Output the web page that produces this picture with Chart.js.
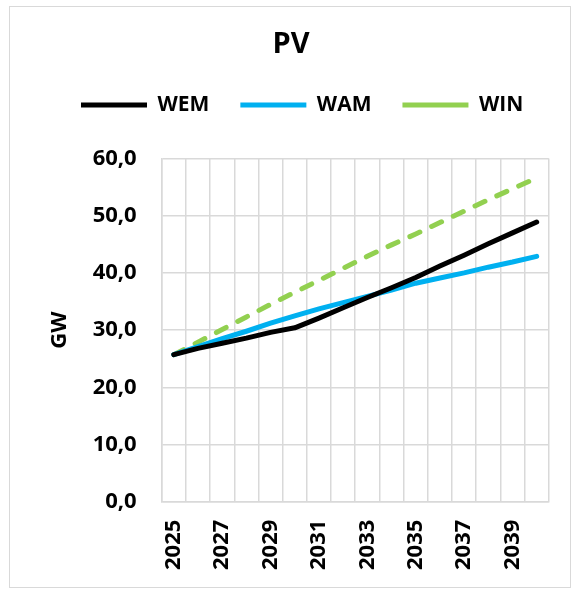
<!DOCTYPE html>
<html>
<head>
<meta charset="utf-8">
<script src="https://cdn.jsdelivr.net/npm/chart.js@4.4.1/dist/chart.umd.min.js"></script>
<style>
  html, body { margin: 0; padding: 0; background: #fff; }
  #wrap { position: relative; width: 582px; height: 594px; }
  #frame { position: absolute; left: 9px; top: 6px; width: 562px; height: 582px; border: 1.5px solid #d9d9d9; box-sizing: border-box; }
  canvas { position: absolute; left: 0; top: 0; }
</style>
</head>
<body>
<div id="wrap">
  <div id="frame"></div>
  <canvas id="chart" width="582" height="594"></canvas>
</div>
<script>
// Daten (GW)
const years = ['2025', '2026', '2027', '2028', '2029', '2030', '2031', '2032',
               '2033', '2034', '2035', '2036', '2037', '2038', '2039', '2040'];
const xTickLabels = ['2025', '2027', '2029', '2031', '2033', '2035', '2037', '2039'];
const wem = [25.7, 26.8, 27.7, 28.6, 29.6, 30.4, 32.1, 33.9, 35.7, 37.4, 39.2, 41.2, 43.1, 45.1, 47.0, 48.9];
const wam = [25.7, 27.1, 28.5, 29.8, 31.2, 32.5, 33.7, 34.8, 35.9, 37.0, 38.2, 39.1, 40.0, 41.0, 41.9, 42.9];
const win = [25.7, 27.9, 30.1, 32.3, 34.5, 36.6, 38.7, 40.8, 42.9, 44.9, 46.8, 48.8, 50.8, 52.8, 54.7, 56.6];

const FONT = "'Open Sans', 'Noto Sans', sans-serif";
const GRID = '#d9d9d9';
const legendStartX = 81;   // wo die erste Legendenlinie beginnen soll
const legendExtra = 33;    // Abstand Legende -> Diagramm

const ctx = document.getElementById('chart').getContext('2d');

const tweaks = {
  id: 'tweaks',
  beforeLayout(chart) {
    const lg = chart.legend;
    if (lg && !lg._patched) {
      const fit = lg.fit;
      lg.fit = function () { fit.call(this); this.height += legendExtra; };
      lg._patched = true;
    }
  },
  afterLayout(chart) {
    // Legende horizontal verschieben
    const lg = chart.legend;
    const p = lg.options.labels.padding;
    const start = (lg.left + p + lg.right - lg.lineWidths[0]) / 2;
    const shift = legendStartX - start;
    lg.left += shift;
    lg.right += shift;
  }
};

new Chart(ctx, {
  type: 'line',
  data: {
    labels: years,
    datasets: [
      { label: 'WEM', data: wem, borderColor: '#000000', backgroundColor: '#000000',
        borderWidth: 5, borderCapStyle: 'round', borderJoinStyle: 'round' },
      { label: 'WAM', data: wam, borderColor: '#00b0f0', backgroundColor: '#00b0f0',
        borderWidth: 5, borderCapStyle: 'round', borderJoinStyle: 'round' },
      { label: 'WIN', data: win, borderColor: '#92d050', backgroundColor: '#92d050',
        borderWidth: 5, borderCapStyle: 'round', borderJoinStyle: 'round', borderDash: [11, 13] }
    ]
  },
  options: {
    responsive: false,
    animation: false,
    devicePixelRatio: 1,
    elements: { point: { radius: 0, hoverRadius: 0 }, line: { tension: 0 } },
    layout: { padding: { left: 0, right: 0, top: 0, bottom: 0 } },
    plugins: {
      tooltip: { enabled: false },
      title: {
        display: true,
        text: 'PV',
        color: '#000',
        font: { family: FONT, size: 29, weight: 'bold', lineHeight: 1.2 },
        padding: { top: 27.6, bottom: 1.1 }
      },
      legend: {
        display: true,
        position: 'top',
        labels: {
          usePointStyle: true,
          pointStyle: 'line',
          pointStyleWidth: 66,
          padding: 31,
          color: '#000',
          font: { family: FONT, size: 21, weight: 'bold' }
        }
      }
    },
    scales: {
      x: {
        type: 'category',
        offset: true,
        grid: { color: GRID, lineWidth: 1.5, offset: true, drawTicks: false },
        border: { color: GRID, width: 1.5 },
        ticks: {
          autoSkip: false,
          minRotation: 90,
          maxRotation: 90,
          padding: 18,
          color: '#000',
          font: { family: FONT, size: 22, weight: 'bold' },
          callback: function (value, index) {
            const lbl = this.getLabelForValue(value);
            return xTickLabels.includes(lbl) ? lbl : '';
          }
        },
        afterFit(scale) { scale.height = 92.3; }
      },
      y: {
        min: 0,
        max: 60,
        grid: { color: GRID, lineWidth: 1.5, drawTicks: false },
        border: { color: GRID, width: 1.5 },
        ticks: {
          stepSize: 10,
          padding: 25,
          color: '#000',
          font: { family: FONT, size: 22, weight: 'bold' },
          callback: (v) => v.toFixed(1).replace('.', ',')
        },
        title: {
          display: true,
          text: 'GW',
          color: '#000',
          font: { family: FONT, size: 22, weight: 'bold' },
          padding: { top: 47, bottom: 0 }
        },
        afterFit(scale) { scale.width = 161.7; }
      },
      yRight: {
        position: 'right',
        display: true,
        grid: { display: false },
        border: { display: false },
        ticks: { display: false },
        afterFit(scale) { scale.width = 29.3; }
      }
    }
  },
  plugins: [tweaks]
});
</script>
</body>
</html>
